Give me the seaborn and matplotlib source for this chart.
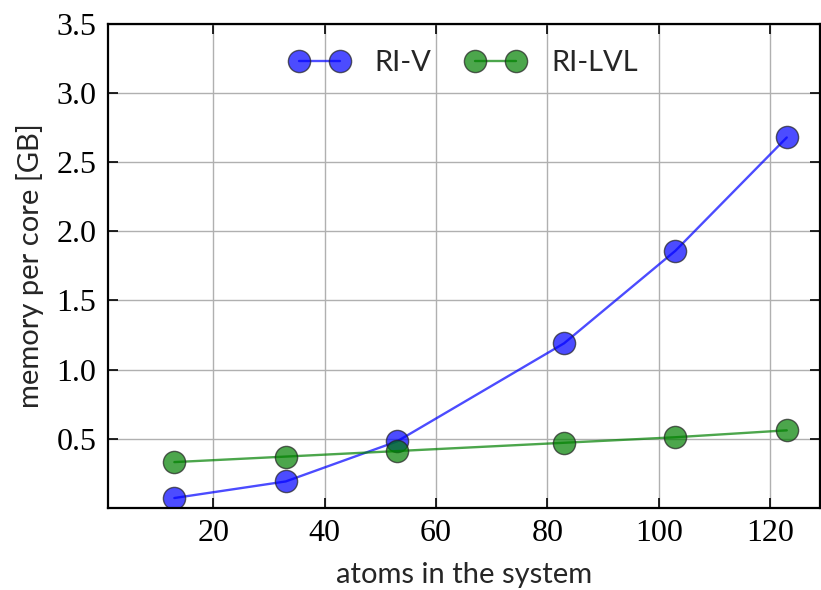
import matplotlib
matplotlib.use("Agg")
import matplotlib.pyplot as plt
from matplotlib.lines import Line2D
import seaborn as sns
import pandas as pd

atoms = [13, 33, 53, 83, 103, 123]
ri_v = [0.07, 0.19, 0.48, 1.19, 1.86, 2.68]
ri_lvl = [0.33, 0.37, 0.41, 0.47, 0.51, 0.56]
series_names = ["RI-V", "RI-LVL"]
yticks = [0.5, 1.0, 1.5, 2.0, 2.5, 3.0, 3.5]
xticks = [20, 40, 60, 80, 100, 120]

sns.set_theme(style="white")
plt.rcParams["font.family"] = ["Lato", "DejaVu Sans"]

df = pd.DataFrame({
    "atoms": atoms * 2,
    "mem": ri_v + ri_lvl,
    "method": [series_names[0]] * len(atoms) + [series_names[1]] * len(atoms),
})

fig = plt.figure(figsize=(8.21, 5.90), dpi=100)
ax = fig.add_axes([0.131, 0.1395, 0.868, 0.8195])

palette = {"RI-V": "#0000ff", "RI-LVL": "#008000"}
marker_kw = dict(marker="o", markersize=16, markeredgecolor="#222222",
                 markeredgewidth=1.0, alpha=0.7, linewidth=1.7)
sns.lineplot(data=df, x="atoms", y="mem", hue="method", palette=palette,
             ax=ax, legend=False, **marker_kw)

ax.set_xlim(1, 129)
ax.set_ylim(0, 3.5)
ax.set_xticks(xticks)
ax.set_yticks(yticks)
ax.set_xticklabels([str(t) for t in xticks], family="Liberation Serif", fontsize=23)
ax.set_yticklabels([f"{t:.1f}" for t in yticks], family="Liberation Serif", fontsize=23)
ax.grid(True, color="#b0b0b0", linewidth=1.0)
ax.set_axisbelow(True)
ax.tick_params(direction="in", length=7, width=1.2, top=True, right=True,
               bottom=True, left=True, pad=8, colors="black")
for s in ax.spines.values():
    s.set_linewidth(1.6)
    s.set_color("black")

ax.set_xlabel("atoms in the system", fontsize=21, labelpad=10)
ax.set_ylabel("memory per core [GB]", fontsize=21, labelpad=9)

handles = [Line2D([], [], color=palette[n], **marker_kw) for n in series_names]
ax.legend(handles, series_names, loc="upper center", ncol=2, frameon=False,
          numpoints=2, fontsize=21, handlelength=2.0, columnspacing=1.2,
          handletextpad=0.9, bbox_to_anchor=(0.5, 1.0))

fig.savefig("out.png", dpi=100)
